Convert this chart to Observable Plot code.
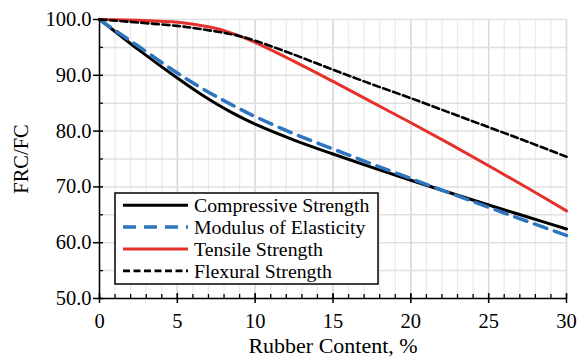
<!DOCTYPE html>
<html><head><meta charset="utf-8">
<script src="https://cdn.jsdelivr.net/npm/d3@7"></script>
<script src="https://cdn.jsdelivr.net/npm/@observablehq/plot@0.6"></script>
<style>
html,body{margin:0;padding:0;background:#fff;}
svg, svg text, svg tspan { font-family: "Liberation Serif", "Times New Roman", serif !important; }
</style>
</head><body><div id="chart"></div>
<script>
const rubber      = [0,    1,     2.5,   5,     6.25,  7.5,   8.75,  10,    12.5,  15,    17.5,  20,    22.5,  25,    27.5,  30];
const compressive = [100,  97.85, 94.6,  89.5,  87.1,  84.9,  82.95, 81.25, 78.4,  75.9,  73.5,  71.2,  68.95, 66.75, 64.6,  62.45];
const modulus     = [100,  98.05, 95.2,  90.4,  88.2,  86.2,  84.35, 82.6,  79.5,  76.8,  74.1,  71.5,  68.9,  66.35, 63.8,  61.3];
const tensile     = [100,  99.97, 99.85, 99.5,  99.05, 98.4,  97.3,  95.9,  92.5,  88.9,  85.2,  81.5,  77.7,  73.8,  69.8,  65.7];
const flexural    = [100,  99.8,  99.45, 98.85, 98.4,  97.85, 97.2,  96.2,  93.7,  91.0,  88.4,  85.9,  83.3,  80.7,  78.1,  75.4];
const seriesNames = ["Compressive Strength", "Modulus of Elasticity", "Tensile Strength", "Flexural Strength"];
const seriesValues = [compressive, modulus, tensile, flexural];
const xTicks = [0, 5, 10, 15, 20, 25, 30];
const xMinor = [0,1,2,3,4,5,6,7,8,9,10,11,12,13,14,15,16,17,18,19,20,21,22,23,24,25,26,27,28,29,30];
const yTicks = [50, 60, 70, 80, 90, 100];
const yGrid = [50, 55, 60, 65, 70, 75, 80, 85, 90, 95, 100];
const yMinor = [55, 65, 75, 85, 95];
const xDomain = [0, 30];
const yDomain = [50, 100];

const styles = [
  {stroke: "#000000", strokeWidth: 3, dash: null},
  {stroke: "#2e75c0", strokeWidth: 3.5, dash: "13,8"},
  {stroke: "#e4312b", strokeWidth: 3, dash: null},
  {stroke: "#000000", strokeWidth: 2.6, dash: "7,3.5"}
];

const rows = seriesNames.map((name, s) => rubber.map((x, i) => ({series: name, x, y: seriesValues[s][i]})));

const font = "Liberation Serif, Times New Roman, serif";

const plot = Plot.plot({
  width: 580, height: 357,
  marginLeft: 99, marginRight: 14, marginTop: 19, marginBottom: 59,
  style: {fontFamily: font, fontSize: "20px", color: "#000", background: "#fff"},
  x: {domain: xDomain},
  y: {domain: yDomain},
  marks: [
    Plot.ruleX(xMinor, {stroke: "#ececec", strokeWidth: 1.3}),
    Plot.ruleX(xTicks, {stroke: "#dadada", strokeWidth: 1.5}),
    Plot.ruleY(yGrid, {stroke: "#e0e0e0", strokeWidth: 1.5}),
    ...rows.map((data, s) => Plot.line(data, {
      x: "x", y: "y", curve: "catmull-rom",
      stroke: styles[s].stroke, strokeWidth: styles[s].strokeWidth,
      strokeDasharray: styles[s].dash
    })),
    Plot.ruleX([xDomain[0]], {stroke: "#000", strokeWidth: 1.5}),
    Plot.ruleY([yDomain[0]], {stroke: "#000", strokeWidth: 1.5}),
    Plot.ruleX(xMinor, {x: d => d, y1: yDomain[0], y2: yDomain[0], insetTop: 0, insetBottom: 4, stroke: "#000", strokeWidth: 1.3}),
    Plot.ruleX(xTicks, {x: d => d, y1: yDomain[0], y2: yDomain[0], insetTop: 5, insetBottom: 5, stroke: "#000", strokeWidth: 1.5}),
    Plot.ruleY(yMinor, {y: d => d, x1: xDomain[0], x2: xDomain[0], insetLeft: 0, insetRight: -4, stroke: "#000", strokeWidth: 1.3}),
    Plot.ruleY(yTicks, {y: d => d, x1: xDomain[0], x2: xDomain[0], insetLeft: -6, insetRight: -4, stroke: "#000", strokeWidth: 1.5}),
    Plot.axisX({ticks: xTicks, tickSize: 0, tickPadding: 15, fontSize: 20.5,
      label: "Rubber Content, %", labelAnchor: "center", labelOffset: 54, labelArrow: false}),
    Plot.axisY({ticks: yTicks, tickSize: 0, tickPadding: 8, fontSize: 20.5, tickFormat: d3.format(".1f"),
      label: "FRC/FC", labelAnchor: "center", labelOffset: 86, labelArrow: false})
  ]
});

document.getElementById("chart").appendChild(plot);

const svg = d3.select(plot);
svg.selectAll("text").attr("font-family", font).style("font-family", font);
svg.selectAll('[aria-label="x-axis label"] text').attr("font-size", 22);
svg.selectAll('[aria-label="y-axis label"] text').attr("font-size", 20.5);

// Legend
const lg = svg.append("g").attr("text-anchor", "start").attr("font-size", 19.8);
lg.append("rect").attr("x", 115).attr("y", 193).attr("width", 263).attr("height", 91)
  .attr("fill", "#fff").attr("stroke", "#000").attr("stroke-width", 1.5);
seriesNames.forEach((name, i) => {
  const y = 205.2 + i * 21.9;
  lg.append("line").attr("x1", 123).attr("x2", 188).attr("y1", y).attr("y2", y)
    .attr("stroke", styles[i].stroke).attr("stroke-width", styles[i].strokeWidth)
    .attr("stroke-dasharray", styles[i].dash);
  lg.append("text").attr("x", 194).attr("y", y).attr("dy", "0.34em").attr("fill", "#000").text(name);
});
</script>
</body></html>
